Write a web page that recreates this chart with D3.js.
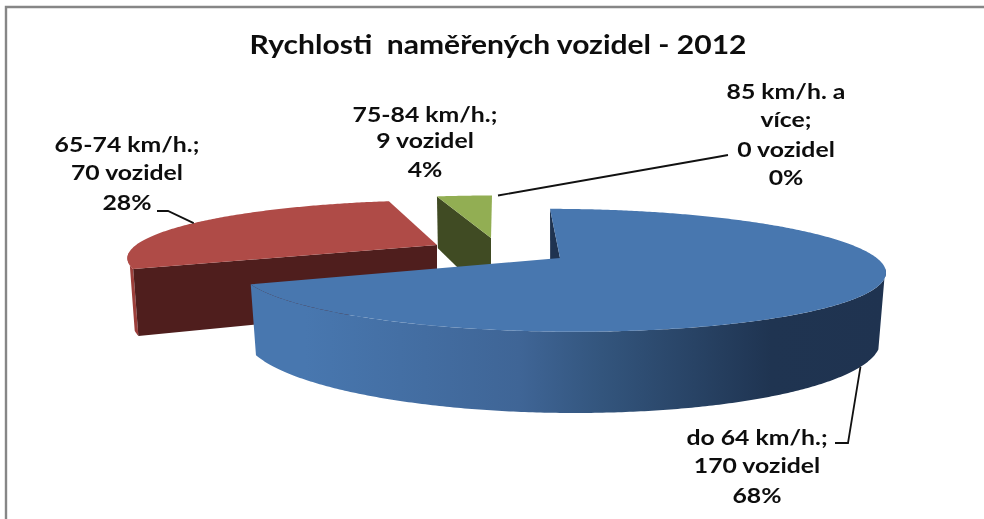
<!DOCTYPE html>
<html><head><meta charset="utf-8">
<script src="https://cdn.jsdelivr.net/npm/d3@7"></script>
<style>
html,body{margin:0;padding:0;background:#fff}
svg{display:block}
text{font-family:Lato,"Noto Sans",sans-serif;font-weight:700;fill:#111;white-space:pre}
</style></head><body>
<script>
const categories = ["do 64 km/h.;", "65-74 km/h.;", "75-84 km/h.;", "85 km/h. a více;"];
const vehicles = [170, 70, 9, 0];
const unit = "vozidel";
const title = "Rychlosti  naměřených vozidel - 2012";
const topColors = ["#4877af", "#af4b47", "#92ae53", "#7d60a0"];
const wallColors = ["#1f3350", "#4f1e1d", "#404b23", "#3c2e4e"];
const rimColors = ["#4675ae", "#9c3f3b", "#7f9a45", "#6a5088"];

// Layout: how each exploded slice sits in the tilted 3-D view.
const views = [
  {ax:560, ay:258, a:316.7, b:-12, ry:59, kv:.2, kx:0, h:65},
  {ax:437, ay:245, a:301, b:10.6, ry:53.7, kv:.2, kx:0, h:61.5},
  {ax:491, ay:238, a:292, b:1.2, ry:51, kv:.2, kx:0, h:62},
  {ax:497, ay:238, a:292, b:1.2, ry:51, kv:.2, kx:0, h:62}
];
const contraction = 0.983;
const drawOrder = [1, 2, 0];
const labelLines = [
  {x:757, ys:[445,473,503], wrap:["do 64 km/h.;"]},
  {x:127, ys:[152,180,210], wrap:["65-74 km/h.;"]},
  {x:425, ys:[122,148,177], wrap:["75-84 km/h.;"]},
  {x:786, ys:[99,127,157,185], wrap:["85 km/h. a","více;"]}
];
const stretch = 1.18;
const W = 984, H = 519;
const deg = Math.PI/180;
const svg = d3.select("body").append("svg").attr("width",W).attr("height",H);
const defs = svg.append("defs");
defs.append("filter").attr("id","soft").append("feGaussianBlur").attr("stdDeviation",0.45);
const grad = defs.append("linearGradient").attr("id","blueWall")
  .attr("gradientUnits","userSpaceOnUse").attr("x1",255).attr("x2",885).attr("y1",0).attr("y2",0);
[[0,"#4877af"],[0.08,"#4877af"],[0.42,"#3f6596"],[0.55,"#33557d"],[0.82,"#1f3451"],[1,"#1f3350"]]
  .forEach(([o,c])=>grad.append("stop").attr("offset",o).attr("stop-color",c));

// frame
svg.append("path").attr("d",d3.line()([[6,H],[6,7],[W,7]]))
  .attr("fill","none").attr("stroke","#868686").attr("stroke-width",2.4);

const total = d3.sum(vehicles);
const pct = d3.format(".0%");
const arcs = d3.pie().sort(null).value(d=>d)(vehicles);

function project(v, ang, bottom){
  const u = Math.sin(ang), c = Math.cos(ang);
  const w = 1 + v.kv*c + v.kx*u;
  const x = v.ax + (v.a*u + v.b*c)/w, y = v.ay - v.ry*c/w;
  return bottom ? [v.ax + (x-v.ax)*contraction, y + v.h/w] : [x,y];
}
function apex(v, bottom){ return bottom ? [v.ax, v.ay + v.h] : [v.ax, v.ay]; }
function sweep(v, a0, a1, bottom){
  const n = Math.max(2, Math.ceil((a1-a0)/0.01));
  return d3.range(n+1).map(i=>project(v, a0+(a1-a0)*i/n, bottom));
}
const line = d3.line();
const g = svg.append("g");
drawOrder.forEach(i=>{
  const s = arcs[i], v = views[i];
  // outer wall: the silhouette's top edge turns earlier than its lower edge
  const topA = Math.max(s.startAngle, 100*deg), topB = Math.min(s.endAngle, 262*deg);
  const lowA = Math.max(s.startAngle, 110*deg), lowB = Math.min(s.endAngle, 250*deg);
  if (topB > topA && lowB > lowA) {
    g.append("path")
      .attr("d", line(sweep(v,topA,topB,false).concat(sweep(v,lowA,lowB,true).reverse()))+"Z")
      .attr("fill", i===0 ? "url(#blueWall)" : rimColors[i]);
  }
  // cut wall at the slice start
  g.append("path")
    .attr("d", line([project(v,s.startAngle,false), apex(v,false), apex(v,true), project(v,s.startAngle,true)])+"Z")
    .attr("fill", wallColors[i]);
  // top face
  g.append("path")
    .attr("d", line([apex(v,false)].concat(sweep(v,s.startAngle,s.endAngle,false)))+"Z")
    .attr("fill", topColors[i]);
});

// leader lines
const leaders = svg.append("g").attr("fill","none").attr("stroke","#111").attr("stroke-width",1.8);
const mid = s => (s.startAngle+s.endAngle)/2;
leaders.append("path").attr("d", line([project(views[1],mid(arcs[1]),false),[168,211],[157,211]]));
leaders.append("path").attr("d", line([project(views[0],mid(arcs[0]),true),[848,443],[835,443]]));
leaders.append("path").attr("d", line([project(views[3],arcs[3].startAngle,false),[717,157],[728,155]]));

// text
const txt = svg.append("g").attr("filter","url(#soft)");
txt.append("text").attr("x",498).attr("y",54).attr("text-anchor","middle")
  .attr("font-size",27).attr("textLength",497).attr("lengthAdjust","spacingAndGlyphs").text(title);
categories.forEach((c,i)=>{
  const L = labelLines[i];
  const rows = L.wrap.concat([vehicles[i]+" "+unit, pct(vehicles[i]/total)]);
  rows.forEach((r,j)=>{
    const t = txt.append("text").attr("x",L.x).attr("y",L.ys[j]).attr("text-anchor","middle")
      .attr("font-size",21).text(r);
    t.attr("textLength", t.node().getComputedTextLength()*stretch).attr("lengthAdjust","spacingAndGlyphs");
  });
});
</script>
</body></html>
